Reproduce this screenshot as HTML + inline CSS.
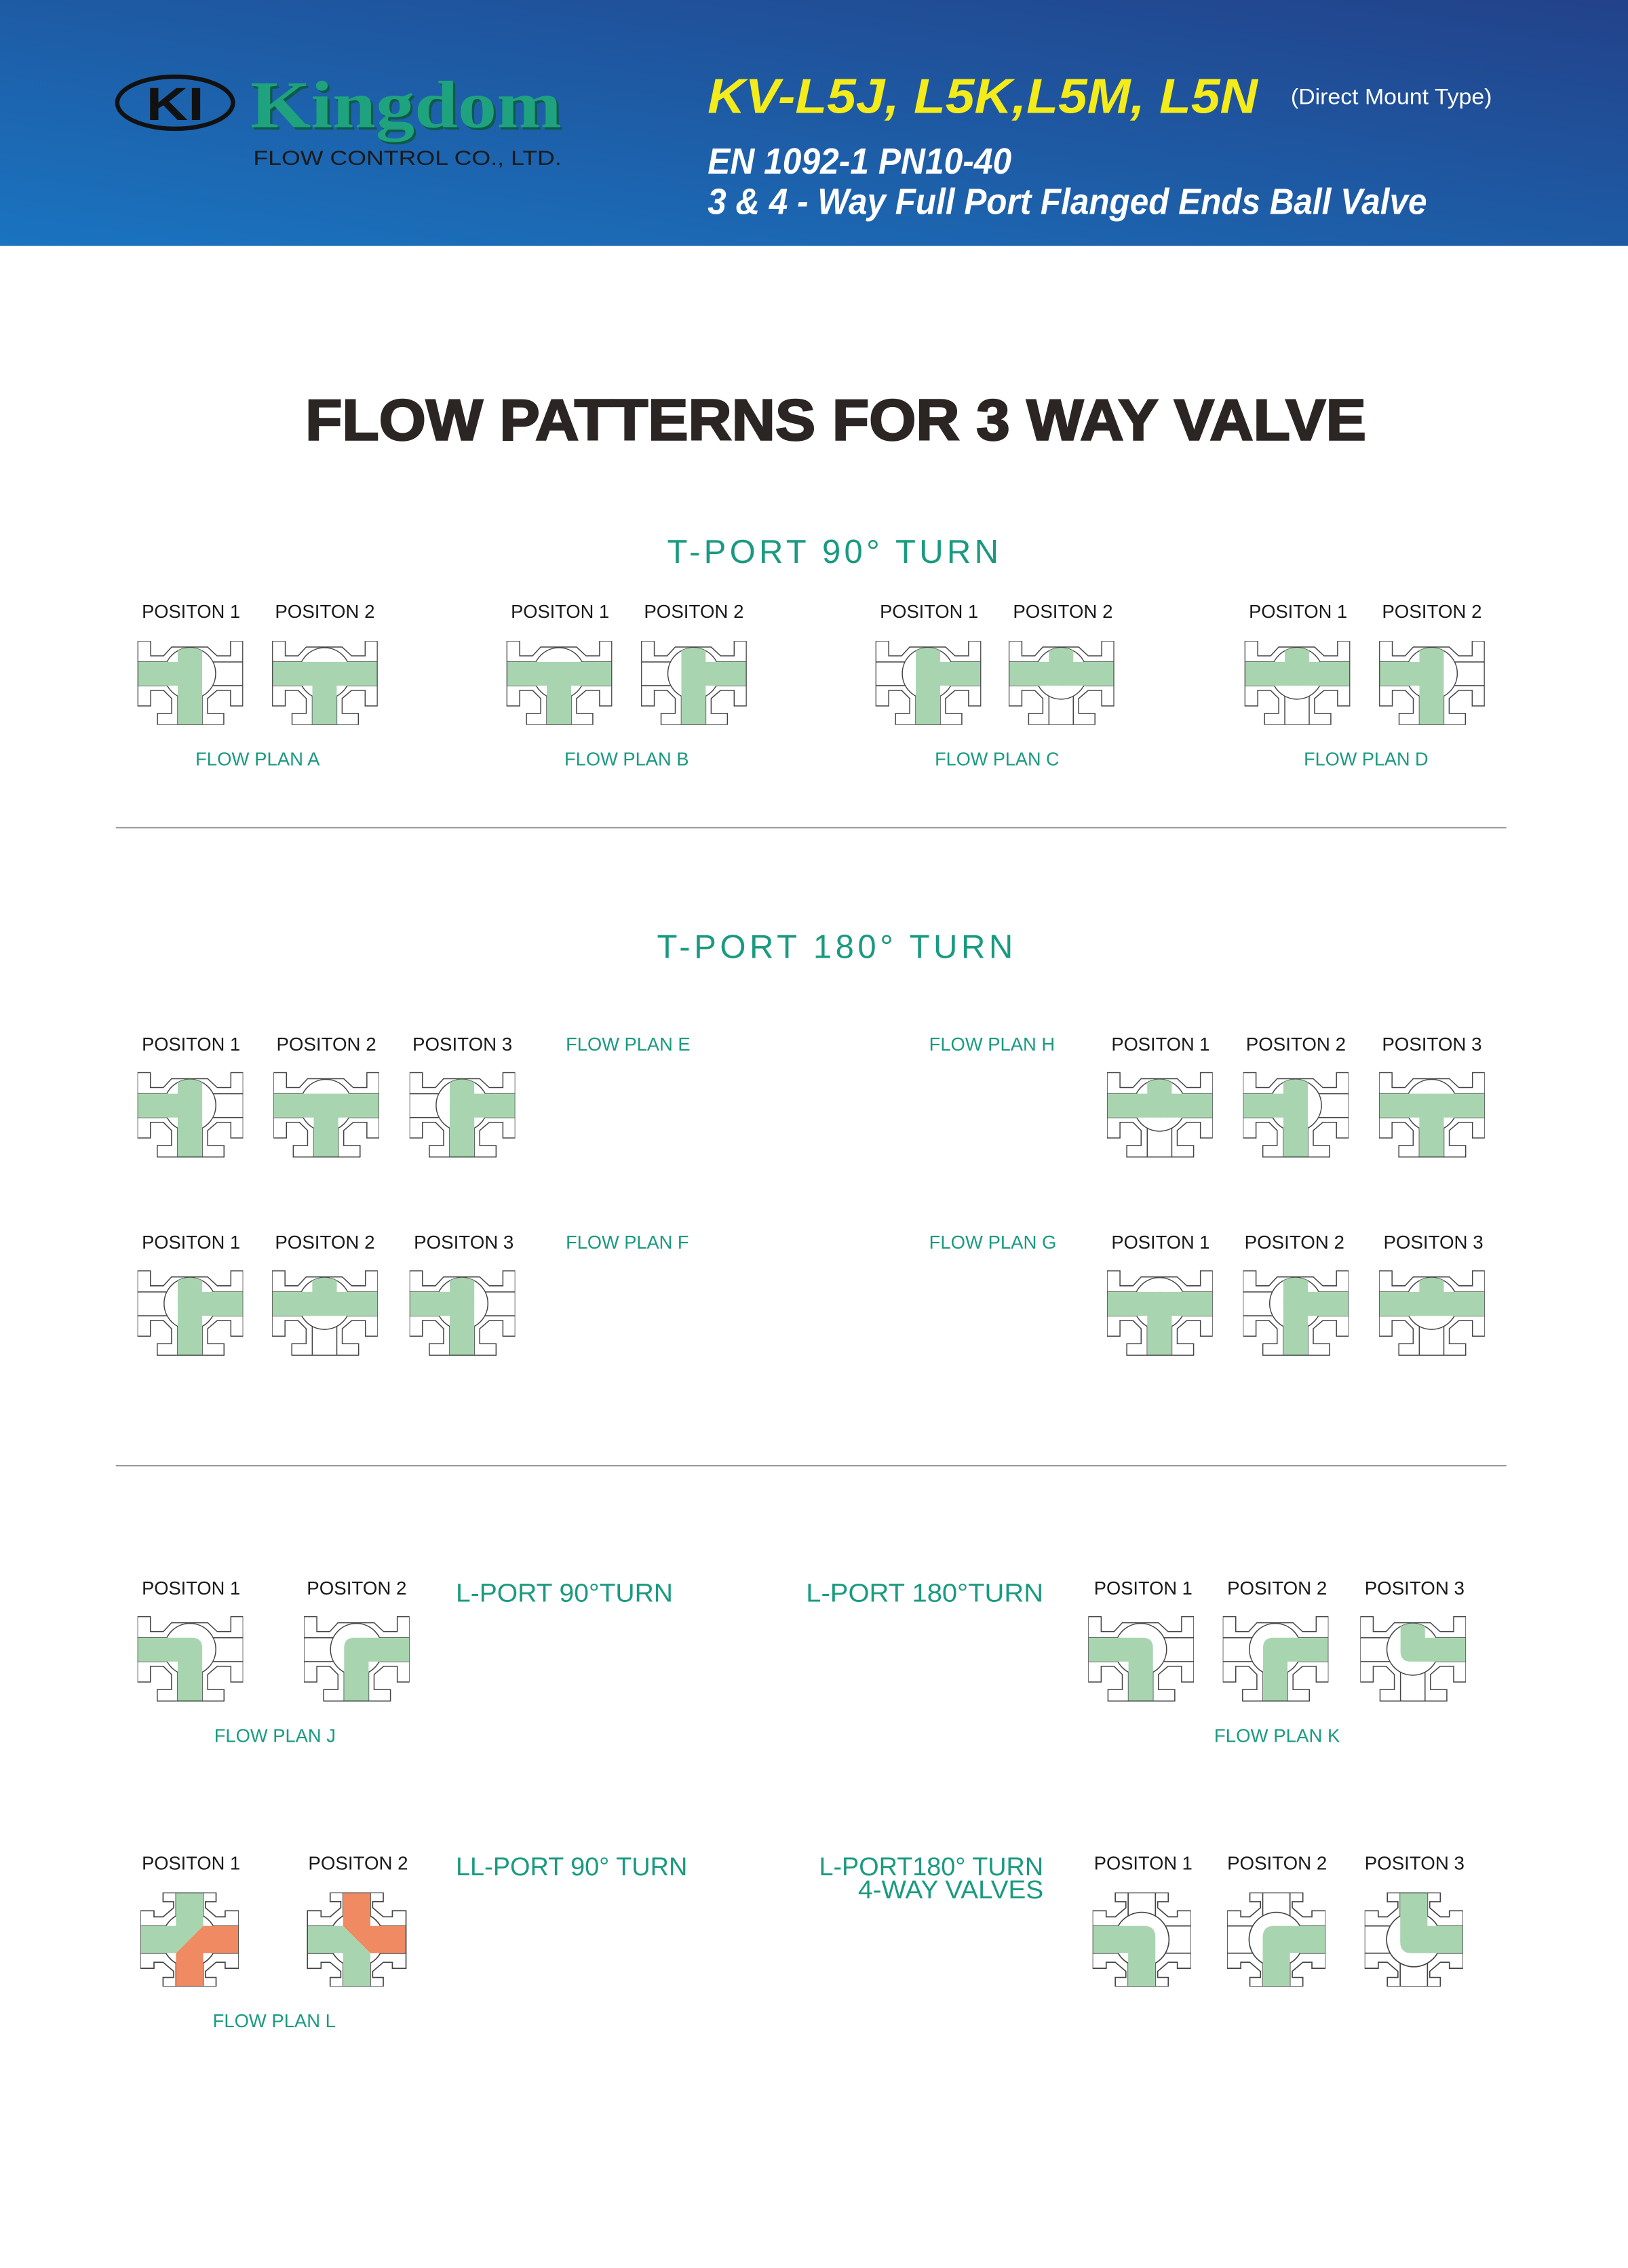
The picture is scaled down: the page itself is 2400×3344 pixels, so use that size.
<!DOCTYPE html>
<html><head><meta charset="utf-8"><style>
html,body{margin:0;padding:0;background:#fff;}
svg{display:block;}
</style></head><body>
<svg width="2400" height="3344" viewBox="0 0 1125 1567.5" xmlns="http://www.w3.org/2000/svg">
<defs>
<linearGradient id="hg" x1="1" y1="0" x2="0" y2="1">
<stop offset="0" stop-color="#22428a"/><stop offset="1" stop-color="#1a74c0"/>
</linearGradient>
<!-- 3-way body -->
<g id="i3" stroke="#444" stroke-width="1.5" fill="none">
<line x1="0" y1="31" x2="155" y2="31"/><line x1="0" y1="66" x2="155" y2="66"/>
<line x1="59" y1="48" x2="59" y2="124"/><line x1="95" y1="48" x2="95" y2="124"/>
<circle cx="77" cy="48" r="38" fill="#fff"/>
</g>
<path id="o3" fill="none" stroke="#444" stroke-width="1.5" d="M0,0 H19 V22 H38 L50,9 H103 L117,22 H137 V0 H155 V96 H137 V73 H117 L103,85 V107 H127 V124 H29 V107 H50 V85 L38,73 H19 V96 H0 Z"/>
<g id="gL"><rect x="0" y="31" width="80" height="35" fill="#a8d5b0"/></g>
<g id="gR"><rect x="74" y="31" width="81" height="35" fill="#a8d5b0"/></g>
<g id="gB"><rect x="59" y="46" width="36" height="78" fill="#a8d5b0"/></g>
<g id="gT"><path d="M59,50 V14.5 A38 38 0 0 1 95,14.5 V50 Z" fill="#a8d5b0"/></g>
<g id="eLB"><path d="M0,31 H80 Q95,31 95,46 V124 H59 V66 H0 Z" fill="#a8d5b0"/></g>
<g id="eRB"><path d="M155,31 H74 Q59,31 59,46 V124 H95 V66 H155 Z" fill="#a8d5b0"/></g>
<g id="eTR"><path d="M59,14.5 A38 38 0 0 1 95,14.5 V31 H155 V66 H74 Q59,66 59,51 Z" fill="#a8d5b0"/></g>
<!-- 4-way body -->
<g id="i4" stroke="#444" stroke-width="1.5" fill="none">
<line x1="0" y1="44" x2="130" y2="44"/><line x1="0" y1="80" x2="130" y2="80"/>
<line x1="47" y1="0" x2="47" y2="124"/><line x1="83" y1="0" x2="83" y2="124"/>
<circle cx="65" cy="62" r="36" fill="#fff"/>
</g>
<path id="o4" fill="none" stroke="#444" stroke-width="1.5" d="M30,0 H100 V12 H86 V20 L100,32 H112 V24 H130 V100 H112 V92 H100 L86,104 V112 H100 V124 H30 V112 H44 V104 L30,92 H18 V100 H0 V24 H18 V32 H30 L44,20 V12 H30 Z"/>
<g id="f4LB"><path d="M0,44 H68 Q83,44 83,59 V124 H47 V80 H0 Z" fill="#a8d5b0"/></g>
<g id="f4RB"><path d="M130,44 H62 Q47,44 47,59 V124 H83 V80 H130 Z" fill="#a8d5b0"/></g>
<g id="f4TR"><path d="M47,0 H83 V44 H130 V80 H62 Q47,80 47,65 Z" fill="#a8d5b0"/></g>
<g id="ll1"><path d="M47,0 H83 V44 L47,80 H0 V44 H47 Z" fill="#a8d5b0"/><path d="M83,44 H130 V80 H83 V124 H47 V80 Z" fill="#ef8a62"/></g>
<g id="ll2"><path d="M47,0 H83 V44 H130 V80 H83 L47,44 Z" fill="#ef8a62"/><path d="M0,44 H47 L83,80 V124 H47 V80 H0 Z" fill="#a8d5b0"/></g>
</defs>

<!-- header -->
<rect x="0" y="0" width="1125" height="170" fill="url(#hg)"/>
<ellipse cx="121" cy="71" rx="40" ry="18" fill="none" stroke="#111" stroke-width="3"/>
<text x="121" y="83" text-anchor="middle" font-family="Liberation Sans" font-weight="bold" font-size="32" fill="#111" textLength="40" lengthAdjust="spacingAndGlyphs">KI</text>
<text x="173" y="88" font-family="Liberation Serif" font-weight="bold" font-size="46" fill="#0d5a48" textLength="215" lengthAdjust="spacingAndGlyphs" transform="translate(1.5,1.5)">Kingdom</text>
<text x="173" y="88" font-family="Liberation Serif" font-weight="bold" font-size="46" fill="#1fa37f" textLength="215" lengthAdjust="spacingAndGlyphs">Kingdom</text>
<text x="175" y="114" font-family="Liberation Sans" font-size="14" fill="#1a1a1a" textLength="213" lengthAdjust="spacingAndGlyphs">FLOW CONTROL CO., LTD.</text>
<text x="489" y="78" font-family="Liberation Sans" font-weight="bold" font-style="italic" font-size="34" fill="#f4ec1a" textLength="380" lengthAdjust="spacingAndGlyphs">KV-L5J, L5K,L5M, L5N</text>
<text x="892" y="72" font-family="Liberation Sans" font-size="15" fill="#fff" textLength="139" lengthAdjust="spacingAndGlyphs">(Direct Mount Type)</text>
<text x="489" y="120" font-family="Liberation Sans" font-weight="bold" font-style="italic" font-size="25" fill="#fff" textLength="210" lengthAdjust="spacingAndGlyphs">EN 1092-1 PN10-40</text>
<text x="489" y="148" font-family="Liberation Sans" font-weight="bold" font-style="italic" font-size="25" fill="#fff" textLength="497" lengthAdjust="spacingAndGlyphs">3 &amp; 4 - Way Full Port Flanged Ends Ball Valve</text>

<!-- title -->
<text x="211" y="304" font-family="Liberation Sans" font-weight="bold" font-size="40" fill="#2b2523" stroke="#2b2523" stroke-width="1.2" textLength="733" lengthAdjust="spacingAndGlyphs">FLOW PATTERNS FOR 3 WAY VALVE</text>

<g font-family="Liberation Sans" fill="#1a9a80">
<text x="461" y="389" font-size="23" textLength="229" lengthAdjust="spacing">T-PORT 90° TURN</text>
<text x="454" y="662" font-size="23" textLength="246" lengthAdjust="spacing">T-PORT 180° TURN</text>
<text x="315" y="1107" font-size="18" textLength="150" lengthAdjust="spacingAndGlyphs">L-PORT 90°TURN</text>
<text x="557" y="1107" font-size="18" textLength="164" lengthAdjust="spacingAndGlyphs">L-PORT 180°TURN</text>
<text x="315" y="1296" font-size="18" textLength="160" lengthAdjust="spacingAndGlyphs">LL-PORT 90° TURN</text>
<text x="566" y="1296" font-size="18" textLength="155" lengthAdjust="spacingAndGlyphs">L-PORT180° TURN</text>
<text x="593" y="1312" font-size="18" textLength="128" lengthAdjust="spacingAndGlyphs">4-WAY VALVES</text>
<g font-size="13">
<text x="135" y="529" textLength="86" lengthAdjust="spacingAndGlyphs">FLOW PLAN A</text>
<text x="390" y="529" textLength="86" lengthAdjust="spacingAndGlyphs">FLOW PLAN B</text>
<text x="646" y="529" textLength="86" lengthAdjust="spacingAndGlyphs">FLOW PLAN C</text>
<text x="901" y="529" textLength="86" lengthAdjust="spacingAndGlyphs">FLOW PLAN D</text>
<text x="391" y="726" textLength="86" lengthAdjust="spacingAndGlyphs">FLOW PLAN E</text>
<text x="642" y="726" textLength="87" lengthAdjust="spacingAndGlyphs">FLOW PLAN H</text>
<text x="391" y="863" textLength="85" lengthAdjust="spacingAndGlyphs">FLOW PLAN F</text>
<text x="642" y="863" textLength="88" lengthAdjust="spacingAndGlyphs">FLOW PLAN G</text>
<text x="148" y="1204" textLength="84" lengthAdjust="spacingAndGlyphs">FLOW PLAN J</text>
<text x="839" y="1204" textLength="87" lengthAdjust="spacingAndGlyphs">FLOW PLAN K</text>
<text x="147" y="1401" textLength="85" lengthAdjust="spacingAndGlyphs">FLOW PLAN L</text>
</g>
</g>

<g font-family="Liberation Sans" font-size="13" fill="#1a1a1a">
<text x="98" y="427" textLength="68" lengthAdjust="spacingAndGlyphs">POSITON 1</text>
<text x="190" y="427" textLength="69" lengthAdjust="spacingAndGlyphs">POSITON 2</text>
<text x="353" y="427" textLength="68" lengthAdjust="spacingAndGlyphs">POSITON 1</text>
<text x="445" y="427" textLength="69" lengthAdjust="spacingAndGlyphs">POSITON 2</text>
<text x="608" y="427" textLength="68" lengthAdjust="spacingAndGlyphs">POSITON 1</text>
<text x="700" y="427" textLength="69" lengthAdjust="spacingAndGlyphs">POSITON 2</text>
<text x="863" y="427" textLength="68" lengthAdjust="spacingAndGlyphs">POSITON 1</text>
<text x="955" y="427" textLength="69" lengthAdjust="spacingAndGlyphs">POSITON 2</text>

<text x="98" y="726" textLength="68" lengthAdjust="spacingAndGlyphs">POSITON 1</text>
<text x="191" y="726" textLength="69" lengthAdjust="spacingAndGlyphs">POSITON 2</text>
<text x="285" y="726" textLength="69" lengthAdjust="spacingAndGlyphs">POSITON 3</text>
<text x="768" y="726" textLength="68" lengthAdjust="spacingAndGlyphs">POSITON 1</text>
<text x="861" y="726" textLength="69" lengthAdjust="spacingAndGlyphs">POSITON 2</text>
<text x="955" y="726" textLength="69" lengthAdjust="spacingAndGlyphs">POSITON 3</text>

<text x="98" y="863" textLength="68" lengthAdjust="spacingAndGlyphs">POSITON 1</text>
<text x="190" y="863" textLength="69" lengthAdjust="spacingAndGlyphs">POSITON 2</text>
<text x="286" y="863" textLength="69" lengthAdjust="spacingAndGlyphs">POSITON 3</text>
<text x="768" y="863" textLength="68" lengthAdjust="spacingAndGlyphs">POSITON 1</text>
<text x="860" y="863" textLength="69" lengthAdjust="spacingAndGlyphs">POSITON 2</text>
<text x="956" y="863" textLength="69" lengthAdjust="spacingAndGlyphs">POSITON 3</text>

<text x="98" y="1102" textLength="68" lengthAdjust="spacingAndGlyphs">POSITON 1</text>
<text x="212" y="1102" textLength="69" lengthAdjust="spacingAndGlyphs">POSITON 2</text>
<text x="756" y="1102" textLength="68" lengthAdjust="spacingAndGlyphs">POSITON 1</text>
<text x="848" y="1102" textLength="69" lengthAdjust="spacingAndGlyphs">POSITON 2</text>
<text x="943" y="1102" textLength="69" lengthAdjust="spacingAndGlyphs">POSITON 3</text>

<text x="98" y="1292" textLength="68" lengthAdjust="spacingAndGlyphs">POSITON 1</text>
<text x="213" y="1292" textLength="69" lengthAdjust="spacingAndGlyphs">POSITON 2</text>
<text x="756" y="1292" textLength="68" lengthAdjust="spacingAndGlyphs">POSITON 1</text>
<text x="848" y="1292" textLength="69" lengthAdjust="spacingAndGlyphs">POSITON 2</text>
<text x="943" y="1292" textLength="69" lengthAdjust="spacingAndGlyphs">POSITON 3</text>
</g>

<line x1="80" y1="572" x2="1041" y2="572" stroke="#999" stroke-width="1"/>
<line x1="80" y1="1013" x2="1041" y2="1013" stroke="#999" stroke-width="1"/>

<!-- T-port 90 row -->
<svg x="95" y="443" width="73" height="58" viewBox="0 0 155 124"><use href="#i3"/><use href="#gL"/><use href="#gT"/><use href="#gB"/><use href="#o3"/></svg>
<svg x="188" y="443" width="73" height="58" viewBox="0 0 155 124"><use href="#i3"/><use href="#gL"/><use href="#gR"/><use href="#gB"/><use href="#o3"/></svg>
<svg x="350" y="443" width="73" height="58" viewBox="0 0 155 124"><use href="#i3"/><use href="#gL"/><use href="#gR"/><use href="#gB"/><use href="#o3"/></svg>
<svg x="443" y="443" width="73" height="58" viewBox="0 0 155 124"><use href="#i3"/><use href="#gR"/><use href="#gT"/><use href="#gB"/><use href="#o3"/></svg>
<svg x="605" y="443" width="73" height="58" viewBox="0 0 155 124"><use href="#i3"/><use href="#gR"/><use href="#gT"/><use href="#gB"/><use href="#o3"/></svg>
<svg x="697" y="443" width="73" height="58" viewBox="0 0 155 124"><use href="#i3"/><use href="#gL"/><use href="#gR"/><use href="#gT"/><use href="#o3"/></svg>
<svg x="860" y="443" width="73" height="58" viewBox="0 0 155 124"><use href="#i3"/><use href="#gL"/><use href="#gR"/><use href="#gT"/><use href="#o3"/></svg>
<svg x="953" y="443" width="73" height="58" viewBox="0 0 155 124"><use href="#i3"/><use href="#gL"/><use href="#gT"/><use href="#gB"/><use href="#o3"/></svg>

<!-- E -->
<svg x="95" y="741" width="73" height="59" viewBox="0 0 155 124"><use href="#i3"/><use href="#gL"/><use href="#gT"/><use href="#gB"/><use href="#o3"/></svg>
<svg x="189" y="741" width="73" height="59" viewBox="0 0 155 124"><use href="#i3"/><use href="#gL"/><use href="#gR"/><use href="#gB"/><use href="#o3"/></svg>
<svg x="283" y="741" width="73" height="59" viewBox="0 0 155 124"><use href="#i3"/><use href="#gR"/><use href="#gT"/><use href="#gB"/><use href="#o3"/></svg>
<!-- H -->
<svg x="765" y="741" width="73" height="59" viewBox="0 0 155 124"><use href="#i3"/><use href="#gL"/><use href="#gR"/><use href="#gT"/><use href="#o3"/></svg>
<svg x="859" y="741" width="73" height="59" viewBox="0 0 155 124"><use href="#i3"/><use href="#gL"/><use href="#gT"/><use href="#gB"/><use href="#o3"/></svg>
<svg x="953" y="741" width="73" height="59" viewBox="0 0 155 124"><use href="#i3"/><use href="#gL"/><use href="#gR"/><use href="#gB"/><use href="#o3"/></svg>
<!-- F -->
<svg x="95" y="878" width="73" height="59" viewBox="0 0 155 124"><use href="#i3"/><use href="#gR"/><use href="#gT"/><use href="#gB"/><use href="#o3"/></svg>
<svg x="188" y="878" width="73" height="59" viewBox="0 0 155 124"><use href="#i3"/><use href="#gL"/><use href="#gR"/><use href="#gT"/><use href="#o3"/></svg>
<svg x="283" y="878" width="73" height="59" viewBox="0 0 155 124"><use href="#i3"/><use href="#gL"/><use href="#gT"/><use href="#gB"/><use href="#o3"/></svg>
<!-- G -->
<svg x="765" y="878" width="73" height="59" viewBox="0 0 155 124"><use href="#i3"/><use href="#gL"/><use href="#gR"/><use href="#gB"/><use href="#o3"/></svg>
<svg x="859" y="878" width="73" height="59" viewBox="0 0 155 124"><use href="#i3"/><use href="#gR"/><use href="#gT"/><use href="#gB"/><use href="#o3"/></svg>
<svg x="953" y="878" width="73" height="59" viewBox="0 0 155 124"><use href="#i3"/><use href="#gL"/><use href="#gR"/><use href="#gT"/><use href="#o3"/></svg>

<!-- L-port J, K -->
<svg x="95" y="1117" width="73" height="59" viewBox="0 0 155 124"><use href="#i3"/><use href="#eLB"/><use href="#o3"/></svg>
<svg x="210" y="1117" width="73" height="59" viewBox="0 0 155 124"><use href="#i3"/><use href="#eRB"/><use href="#o3"/></svg>
<svg x="752" y="1117" width="73" height="59" viewBox="0 0 155 124"><use href="#i3"/><use href="#eLB"/><use href="#o3"/></svg>
<svg x="845" y="1117" width="73" height="59" viewBox="0 0 155 124"><use href="#i3"/><use href="#eRB"/><use href="#o3"/></svg>
<svg x="940" y="1117" width="73" height="59" viewBox="0 0 155 124"><use href="#i3"/><use href="#eTR"/><use href="#o3"/></svg>

<!-- 4-way -->
<svg x="97" y="1308" width="68" height="65" viewBox="0 0 130 124"><use href="#i4"/><use href="#ll1"/><use href="#o4"/></svg>
<svg x="212" y="1308" width="69" height="65" viewBox="0 0 130 124"><use href="#i4"/><use href="#ll2"/><use href="#o4"/></svg>
<svg x="755" y="1308" width="68" height="65" viewBox="0 0 130 124"><use href="#i4"/><use href="#f4LB"/><use href="#o4"/></svg>
<svg x="848" y="1308" width="68" height="65" viewBox="0 0 130 124"><use href="#i4"/><use href="#f4RB"/><use href="#o4"/></svg>
<svg x="943" y="1308" width="68" height="65" viewBox="0 0 130 124"><use href="#i4"/><use href="#f4TR"/><use href="#o4"/></svg>
</svg>
</body></html>
